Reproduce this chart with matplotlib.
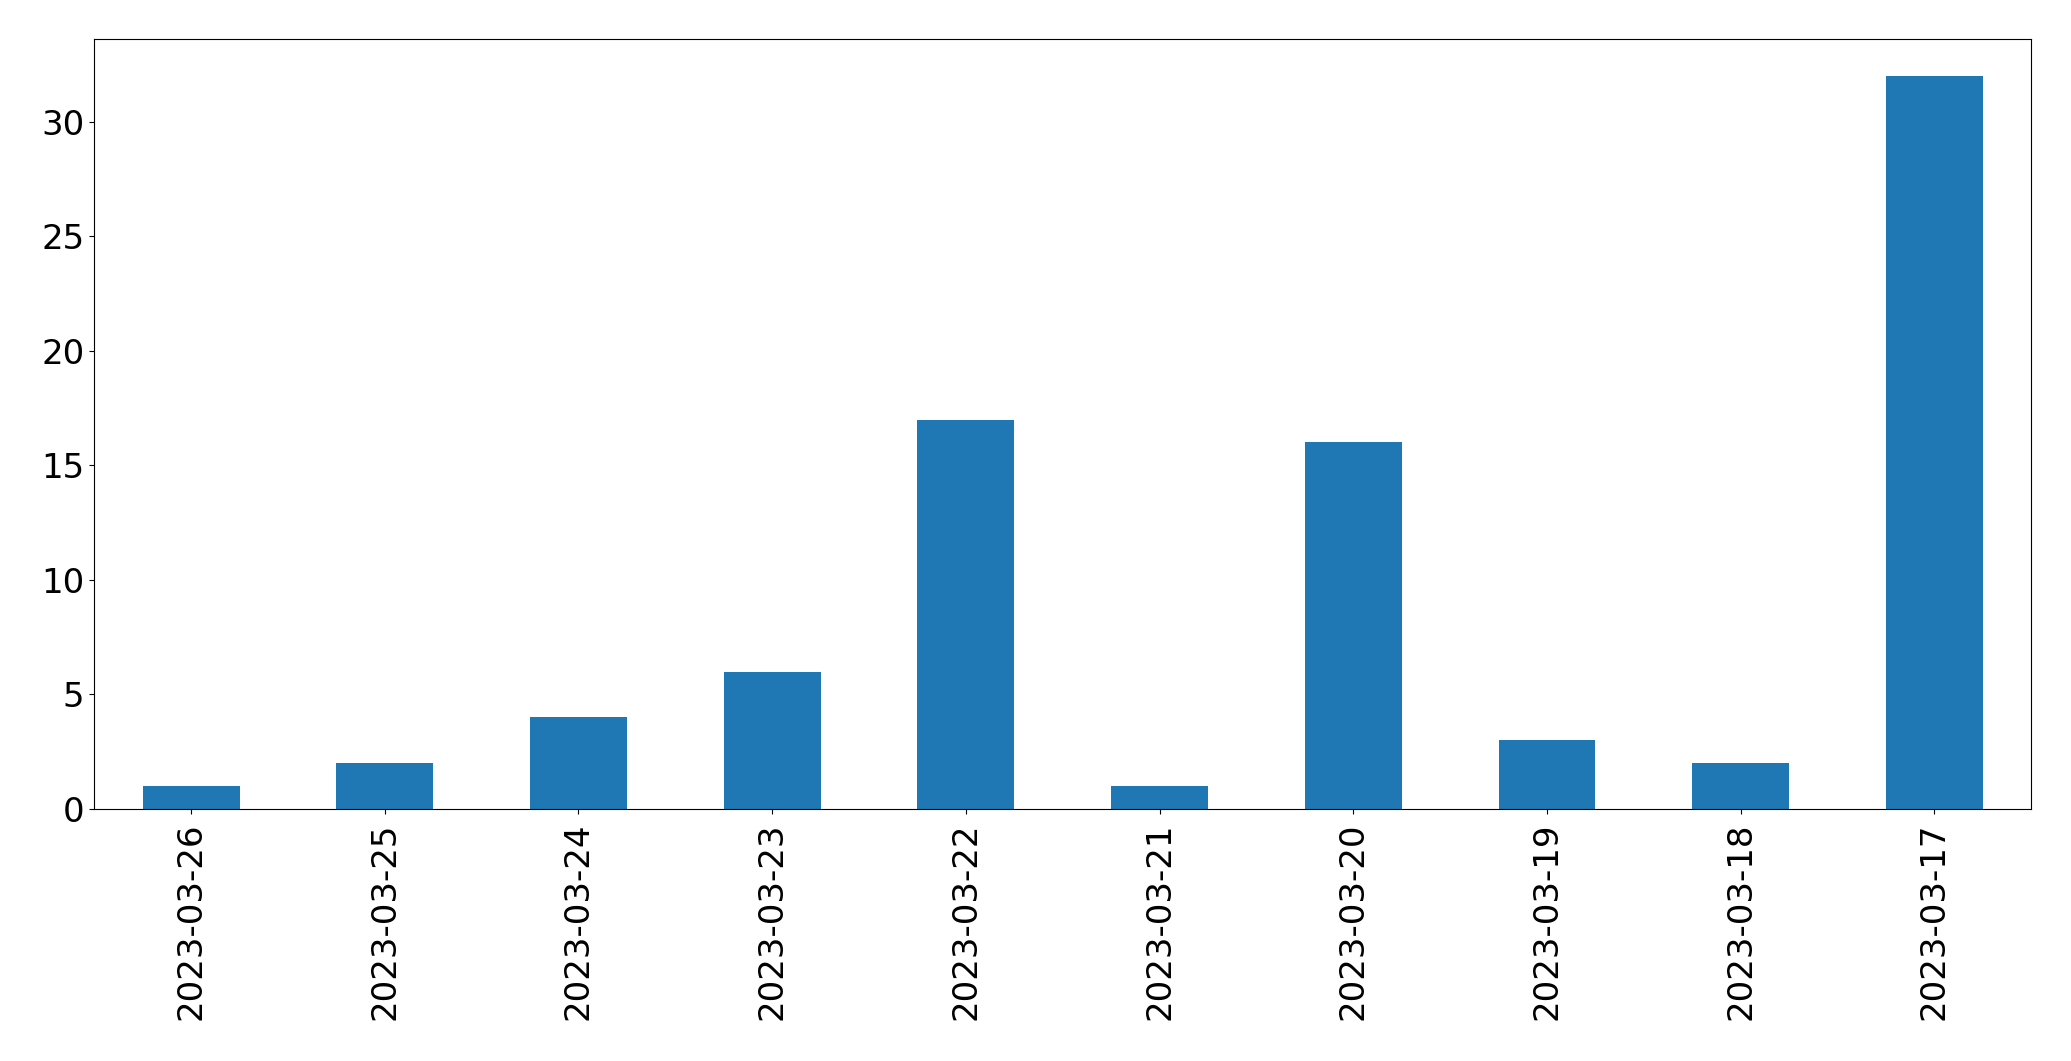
import matplotlib
matplotlib.use("Agg")
import matplotlib.pyplot as plt
import numpy as np

# ===============================
# Data
# ===============================
dates = [
    "2023-03-26", "2023-03-25", "2023-03-24", "2023-03-23", "2023-03-22",
    "2023-03-21", "2023-03-20", "2023-03-19", "2023-03-18", "2023-03-17",
]
counts = [1, 2, 4, 6, 17, 1, 16, 3, 2, 32]

# ===============================
# Plot
# ===============================
fig = plt.figure(figsize=(20.71, 10.61), dpi=100)
ax = fig.add_axes([0.0455, 0.2375, 0.9353, 0.7255])

x = np.arange(len(dates))
ax.bar(x, counts, width=0.5, color="#1f77b4")

ax.set_xlim(-0.5, len(dates) - 0.5)
ax.set_ylim(0, max(counts) * 1.05)
ax.set_xticks(x)
ax.set_xticklabels(dates, rotation=90)
ax.tick_params(axis="both", labelsize=24.5)
ax.tick_params(axis="x", pad=6)

fig.savefig("out.png", dpi=100)
